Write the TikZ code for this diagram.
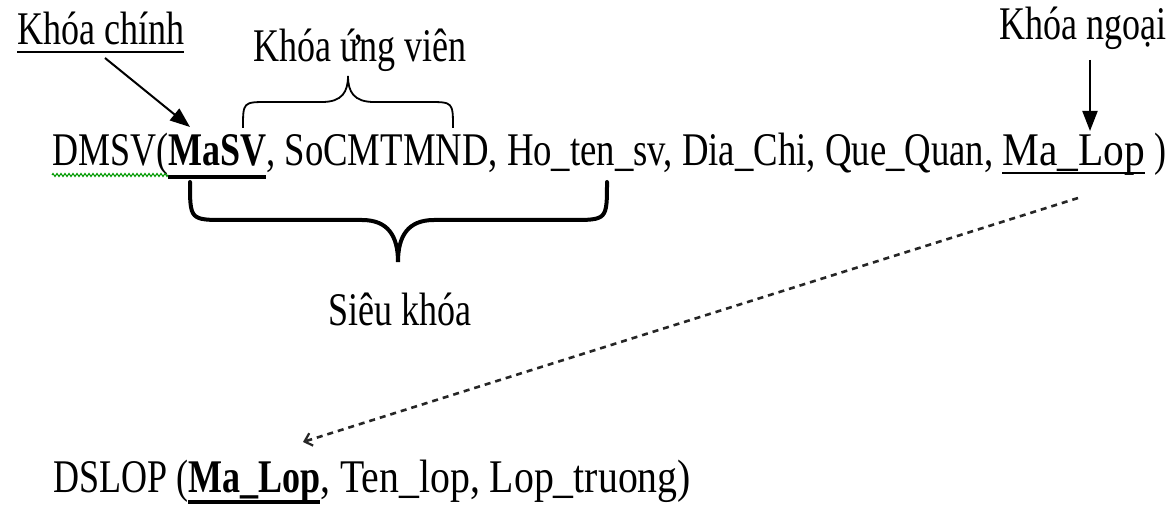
\documentclass[tikz,border=0pt]{standalone}
\usepackage{fontspec}
\setmainfont{Liberation Serif}
\newcommand{\sq}[2][0.77]{\scalebox{#1}[1]{#2}}
\usetikzlibrary{arrows.meta,decorations.pathmorphing}
\begin{document}
\begin{tikzpicture}[x=1pt,y=-1pt,
  txt/.style={anchor=base west,inner sep=0pt,outer sep=0pt,font=\rmfamily\fontsize{46.8}{50}\selectfont},
  btxt/.style={txt,font=\rmfamily\fontsize{46.8}{50}\selectfont\bfseries},
  thinul/.style={line width=1.5pt},
  thickul/.style={line width=4pt},
  ptr/.style={line width=2pt,-{Triangle[length=20pt,width=15pt]}},
  fkline/.style={line width=2.6pt,black!85,dash pattern=on 6pt off 5pt,-{Straight Barb[length=7pt,width=13pt,line width=2.2pt]}},
  squig/.style={green!60!black,line width=1pt,decorate,decoration={zigzag,segment length=4pt,amplitude=1.5pt}},
  bigbrace/.style={line width=4pt,line cap=round},
  smallbrace/.style={line width=1.8pt}]
\useasboundingbox (0,0) rectangle (1168,505);
\fill[white] (0,0) rectangle (1168,505);

% labels
\node[txt] (kc) at (17,45) {\sq{Khóa chính}};
\node[txt] (kuv) at (253,62) {\sq{Khóa ứng viên}};
\node[txt] (kn) at (999,40) {\sq{Khóa ngoại}};
\node[txt,anchor=base] (sk) at (400,326) {\sq{Siêu khóa}};

% main relation
\node[txt] (dmsv) at (52,166) {\sq{DMSV(}};
\node[btxt] (masv) at (dmsv.base east) {\sq{MaSV}};
\node[txt] (mid) at (masv.base east) {\sq[0.785]{, SoCMTMND, Ho\_ten\_sv, Dia\_Chi, Que\_Quan,}};
\node[txt] (malop) at ([xshift=9pt]mid.base east) {\sq[0.885]{Ma\_Lop}};
\node[txt] (close) at ([xshift=9pt]malop.base east) {\sq{)}};

% second relation
\node[txt] (dslop) at (53,492) {\sq{DSLOP (}};
\node[btxt] (malop2) at (dslop.base east) {\sq{Ma\_Lop}};
\node[txt] (rest) at (malop2.base east) {\sq[0.85]{, Ten\_lop, Lop\_truong)}};

% underlines
\draw[thinul] ([yshift=-7pt]kc.base west) -- ([yshift=-7pt]kc.base east);
\draw[thickul] ([yshift=-11pt]masv.base west) -- ([yshift=-11pt]masv.base east);
\draw[thinul] ([yshift=-7pt]malop.base west) -- ([yshift=-7pt]malop.base east);
\draw[thickul] ([yshift=-10pt]malop2.base west) -- ([yshift=-10pt]malop2.base east);
\draw[squig] ([yshift=-9pt]dmsv.base west) -- ([yshift=-9pt]dmsv.base east);

% pointers
\coordinate (kcs) at (105,58);
\coordinate (kct) at (190,127);
\draw[ptr] (kcs) -- (kct);
\coordinate (kns) at (1090,60);
\coordinate (knt) at (1090,131);
\draw[ptr] (kns) -- (knt);

% foreign key reference
\coordinate (fks) at (1078,198);
\coordinate (fkt) at (303,442);
\draw[fkline] (fks) -- (fkt);

% small brace (candidate key)
\draw[smallbrace] (243,128) .. controls (243,102) .. (268,102) -- (322,102)
  .. controls (342,102) and (348,92) .. (348,76)
  .. controls (348,92) and (354,102) .. (374,102) -- (428,102)
  .. controls (453,102) .. (453,128);

% big brace (super key)
\draw[bigbrace] (190,182) .. controls (190,220) .. (226,220) -- (362,220)
  .. controls (388,220) and (398,236) .. (398,262)
  .. controls (398,236) and (408,220) .. (434,220) -- (571,220)
  .. controls (607,220) .. (607,182);
\end{tikzpicture}
\end{document}
